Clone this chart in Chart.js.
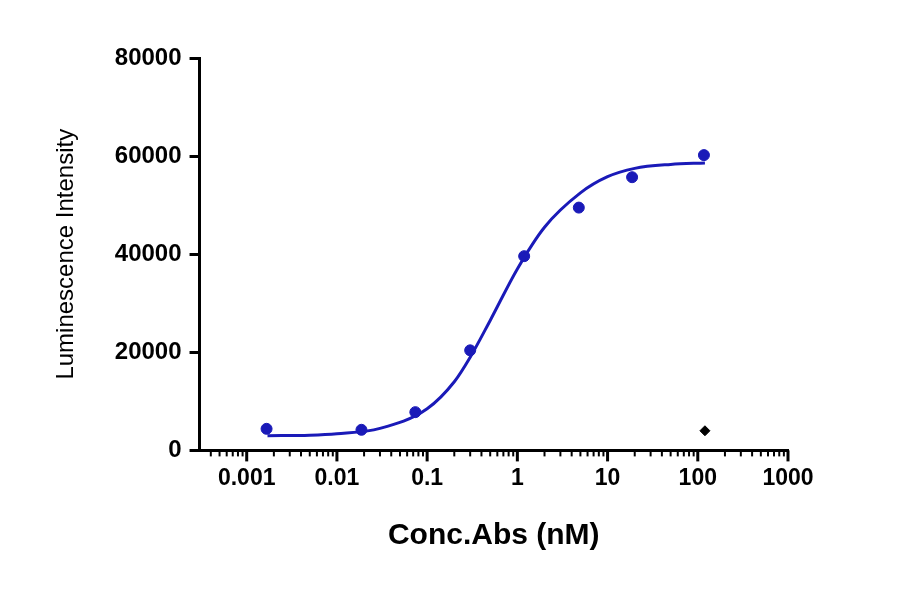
<!DOCTYPE html>
<html><head><meta charset="utf-8">
<script src="https://cdn.jsdelivr.net/npm/chart.js@4/dist/chart.umd.min.js"></script>
<style>html,body{margin:0;background:#fff}#w{width:900px;height:594px}</style>
</head><body><div id="w"><canvas id="c"></canvas></div>
<script>
const concPoints=[0.00166,0.0187,0.074,0.30,1.19,4.8,18.7,117];
const lumPoints=[4400,4200,7800,20400,39600,49500,55700,60200];
const curveConc=[0.0017,0.005,0.01,0.03,0.1,0.2,0.3,0.5,1,2,5,10,20,50,120];
const curveLum=[3000,3100,3400,4500,8500,14000,19000,26500,37000,45500,52500,55800,57500,58300,58600];
const blankConc=[120];const blankLum=[4000];
const yTicks=[0,20000,40000,60000,80000];
const xMajor=[0.001,0.01,0.1,1,10,100,1000];
const minorTicks=[];
for(let d=-4;d<3;d++)for(let m=2;m<10;m++){const v=m*Math.pow(10,d);if(v>0.00033&&v<1000)minorTicks.push(v);}
const font="Arial, 'Liberation Sans', sans-serif";
const minorPlugin={id:'minor',afterDraw(ch){const s=ch.scales.x,c=ch.ctx;c.save();c.strokeStyle='#000';c.lineWidth=2;
for(const v of minorTicks){const x=s.getPixelForValue(v);c.beginPath();c.moveTo(x,s.top);c.lineTo(x,s.top+6);c.stroke();}
for(const v of xMajor){const x=s.getPixelForValue(v);c.lineWidth=3;c.beginPath();c.moveTo(x,s.top);c.lineTo(x,s.top+11);c.stroke();}
c.restore();}};
new Chart(document.getElementById('c'),{
type:'scatter',
data:{datasets:[
{type:'line',data:curveConc.map((x,i)=>({x,y:curveLum[i]})),borderColor:'#1a1ab8',borderWidth:3,pointRadius:0,cubicInterpolationMode:'monotone',fill:false},
{data:concPoints.map((x,i)=>({x,y:lumPoints[i]})),backgroundColor:'#1a1ab8',borderColor:'#1a1ab8',pointRadius:5.5},
{data:blankConc.map((x,i)=>({x,y:blankLum[i]})),backgroundColor:'#000',borderColor:'#000',pointStyle:'rectRot',pointRadius:5}
]},
plugins:[minorPlugin],
options:{responsive:true,maintainAspectRatio:false,animation:false,
layout:{padding:{left:48,right:112,top:58,bottom:36}},
plugins:{legend:{display:false},tooltip:{enabled:false}},
scales:{
x:{type:'logarithmic',min:0.00033,max:1000,
afterBuildTicks:s=>{s.ticks=xMajor.map(v=>({value:v}));},
ticks:{callback:v=>String(v),color:'#000',font:{family:font,size:23,weight:'bold'},padding:14,maxRotation:0,autoSkip:false},
grid:{drawOnChartArea:false,drawTicks:false},
border:{color:'#000',width:3},
title:{display:true,text:'Conc.Abs (nM)',color:'#000',font:{family:font,size:30,weight:'bold'},padding:{top:12}}},
y:{min:0,max:80000,
afterBuildTicks:s=>{s.ticks=yTicks.map(v=>({value:v}));},
ticks:{callback:v=>String(v),color:'#000',font:{family:font,size:24,weight:'bold'},padding:8},
grid:{drawOnChartArea:false,color:'#000',lineWidth:3,tickLength:10},
border:{color:'#000',width:3},
title:{display:true,text:'Luminescence Intensity',color:'#000',font:{family:font,size:24},padding:{bottom:26}}}
}}});
</script></body></html>
